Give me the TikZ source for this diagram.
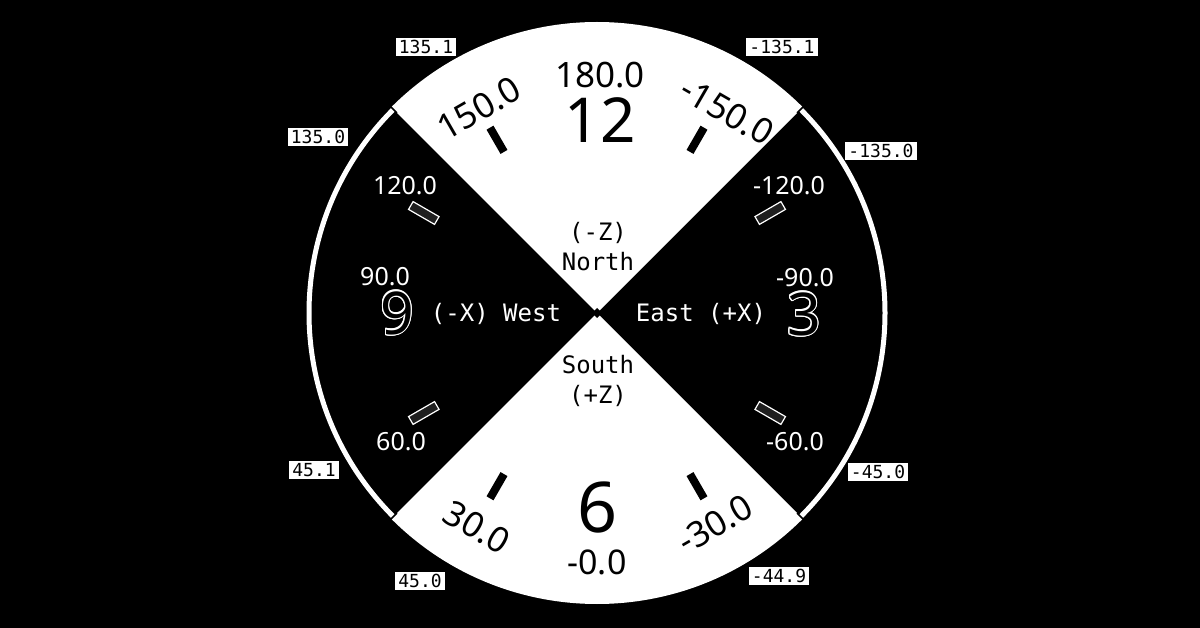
\documentclass[tikz,border=0pt]{standalone}
\usepackage{fontspec}
\setmainfont{Noto Sans}
\newfontfamily\dmono{DejaVu Sans Mono}
\begin{document}
\begin{tikzpicture}[x=1pt,y=1pt,
 lbl/.style={fill=white,text=black,inner xsep=3pt,inner ysep=2.5pt,font=\dmono\fontsize{18}{18}\selectfont},
 wnum/.style={text=white,font=\fontsize{25}{25}\selectfont},
 bnum/.style={text=black,font=\fontsize{35}{35}\selectfont},
 dirw/.style={text=white,align=center,font=\dmono\fontsize{24}{30}\selectfont},
 dirb/.style={text=black,align=center,font=\dmono\fontsize{24}{30}\selectfont},
 btick/.style={fill=black,minimum width=28pt,minimum height=8pt,inner sep=0pt},
 htick/.style={fill=black!88,draw=white,line width=1.2pt,minimum width=30pt,minimum height=9pt,inner sep=0pt},
 bigdig/.style={font=\fontsize{59}{59}\selectfont}]
\fill[black] (0,0) rectangle (1200,-628);
\useasboundingbox (0,0) rectangle (1200,-628);
\coordinate (C) at (597,-313);
% sectors
\fill[white] (C) -- ++(45:291) arc[start angle=45,end angle=135,radius=291] -- cycle;
\fill[white] (C) -- ++(225:291) arc[start angle=225,end angle=315,radius=291] -- cycle;
% ring
\draw[white,line width=5pt] ([shift={(135:288)}]C) arc[start angle=135,end angle=225,radius=288];
\draw[white,line width=5pt] ([shift={(-45:288)}]C) arc[start angle=-45,end angle=45,radius=288];
\foreach \a in {45,135,225,315}
  \draw[black,line width=1.5pt] ([shift={(\a:283)}]C) -- ([shift={(\a:292)}]C);
% centre diamond
\fill[black] (C) +(-5,0) -- +(0,5) -- +(5,0) -- +(0,-5) -- cycle;
% ticks
\node[btick,rotate=120] (t150) at ([shift={(120:200)}]C) {};
\node[btick,rotate=60] (tm150) at ([shift={(60:200)}]C) {};
\node[btick,rotate=240] (t30) at ([shift={(240:200)}]C) {};
\node[btick,rotate=300] (tm30) at ([shift={(300:200)}]C) {};
\node[htick,rotate=150] (t120) at ([shift={(150:200)}]C) {};
\node[htick,rotate=210] (t60) at ([shift={(210:200)}]C) {};
\node[htick,rotate=30] (tm120) at ([shift={(30:200)}]C) {};
\node[htick,rotate=330] (tm60) at ([shift={(330:200)}]C) {};
% big numbers
\node[bnum] (n180) at (600,-75) {180.0};
\node[text=black,font=\fontsize{62}{62}\selectfont] (n12) at (600,-120) {12};
\node[text=black,font=\fontsize{70}{70}\selectfont] (n6) at (598,-508) {6};
\node[text=black,font=\fontsize{34}{34}\selectfont] (n0) at (597,-562) {-0.0};
\node[bnum,rotate=30] (n150) at (479,-108) {150.0};
\node[bnum,rotate=-30] (nm150) at (727,-111) {-150.0};
\node[bnum,rotate=-30] (n30) at (477,-527) {30.0};
\node[bnum,rotate=30] (nm30) at (715,-524) {-30.0};
% white numbers
\node[wnum] (n120) at (405,-186) {120.0};
\node[wnum] (nm120) at (789,-186) {-120.0};
\node[wnum] (n90) at (385,-277) {90.0};
\node[wnum] (nm90) at (805,-278) {-90.0};
\node[wnum] (n60) at (401,-442) {60.0};
\node[wnum] (nm60) at (795,-442) {-60.0};
% outlined 9 and 3
\foreach \a in {0,20,...,340} {
  \node[bigdig,text=white] at ([shift={(\a:1.1)}]397,-313) {9};
  \node[bigdig,text=white] at ([shift={(\a:1.1)}]804,-314) {3};
}
\node[bigdig,text=black] (d9) at (397,-313) {9};
\node[bigdig,text=black] (d3) at (804,-314) {3};
% direction labels
\node[dirb] (north) at (598,-247) {(-Z)\\North};
\node[dirb] (south) at (598,-381) {South\\(+Z)};
\node[dirw] (west) at (496,-314) {(-X) West};
\node[dirw] (east) at (701,-314) {East (+X)};
% boxed labels
\node[lbl] (b1351) at (426,-47) {135.1};
\node[lbl] (b1350) at (318,-137) {135.0};
\node[lbl] (bm1351) at (782,-47) {-135.1};
\node[lbl] (bm1350) at (881,-151) {-135.0};
\node[lbl] (b451) at (314,-470) {45.1};
\node[lbl] (b450) at (420,-581) {45.0};
\node[lbl] (bm450) at (878,-472) {-45.0};
\node[lbl] (bm449) at (779,-576) {-44.9};
\end{tikzpicture}
\end{document}
